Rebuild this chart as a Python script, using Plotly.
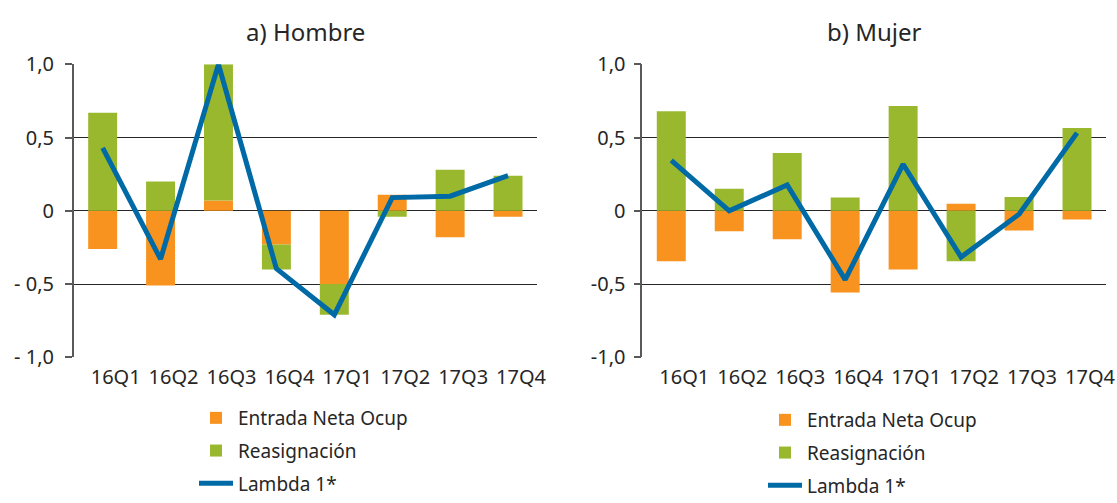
import plotly.graph_objects as go

categories = ["16Q1", "16Q2", "16Q3", "16Q4", "17Q1", "17Q2", "17Q3", "17Q4"]

hombre_entrada = [-0.26, -0.51, 0.07, -0.23, -0.50, 0.11, -0.18, -0.04]
hombre_reasig = [0.67, 0.20, 0.93, -0.17, -0.21, -0.04, 0.28, 0.24]
hombre_lambda = [0.43, -0.33, 1.00, -0.395, -0.71, 0.09, 0.10, 0.24]

mujer_entrada = [-0.345, -0.14, -0.195, -0.557, -0.40, 0.048, -0.134, -0.06]
mujer_reasig = [0.68, 0.15, 0.395, 0.09, 0.715, -0.345, 0.095, 0.565]
mujer_lambda = [0.345, 0.0, 0.177, -0.47, 0.318, -0.316, -0.023, 0.532]

titles = ["a) Hombre", "b) Mujer"]
series_names = ["Entrada Neta Ocup", "Reasignación", "Lambda 1*"]
ytick_vals = [1.0, 0.5, 0.0, -0.5, -1.0]
ytick_text_left = ["1,0", "0,5", "0", "- 0,5", "- 1,0"]
ytick_text_right = ["1,0", "0,5", "0", "-0,5", "-1,0"]

ORANGE = "#F7931E"
GREEN = "#99B82E"
BLUE = "#006AA7"
TEXT = "#262626"
FONT = "Noto Sans"

W, H = 1117, 503
dom_left = [73.7 / W, 537 / W]
dom_right = [642.3 / W, 1106 / W]
ydom = [1 - 357.3 / H, 1 - 64.3 / H]
zero_pos = (ydom[0] + ydom[1]) / 2

fig = go.Figure()

panels = [
    (hombre_entrada, hombre_reasig, hombre_lambda, "x", "y", "legend", "a"),
    (mujer_entrada, mujer_reasig, mujer_lambda, "x2", "y2", "legend2", "b"),
]
for ent, rea, lam, xa, ya, leg, tag in panels:
    fig.add_trace(go.Bar(x=categories, y=ent, name=series_names[0], marker_color=ORANGE,
                         marker_line_width=0, xaxis=xa, yaxis=ya, legend=leg,
                         legendgroup=tag + "o"))
    fig.add_trace(go.Bar(x=categories, y=rea, name=series_names[1], marker_color=GREEN,
                         marker_line_width=0, xaxis=xa, yaxis=ya, legend=leg,
                         legendgroup=tag + "g"))
    fig.add_trace(go.Scatter(x=categories, y=lam, name=series_names[2], mode="lines",
                             line=dict(color=BLUE, width=5), cliponaxis=False,
                             xaxis=xa, yaxis=ya, legend=leg, legendgroup=tag + "l"))

xcommon = dict(type="category", showgrid=False, showline=False, ticks="",
               tickfont=dict(family=FONT, size=20, color=TEXT), ticklabelshift=13,
               ticklabelstandoff=6, range=[-0.5, 7.5], automargin=False)
ycommon = dict(range=[-1, 1], tickvals=ytick_vals, showgrid=True, gridcolor="#262626",
               gridwidth=1, zeroline=False, showline=True, linecolor="#595959", linewidth=1.5,
               ticks="outside", ticklen=7, tickcolor="#595959", tickwidth=1.5,
               tickfont=dict(family=FONT, size=20, color=TEXT), domain=ydom,
               automargin=False)
zaxis = dict(type="linear", range=[-0.5, 7.5], tick0=0.5, dtick=1, showgrid=False,
             showline=True, linecolor="#595959", linewidth=1.5, ticks="outside",
             ticklen=6, tickcolor="#595959", tickwidth=1.5, showticklabels=False,
             anchor="free", position=zero_pos, zeroline=False)

legend_common = dict(xanchor="left", font=dict(family=FONT, size=19, color=TEXT),
                     traceorder="grouped", tracegroupgap=5, itemwidth=34,
                     bgcolor="rgba(0,0,0,0)")

fig.update_layout(
    width=W, height=H,
    margin=dict(l=0, r=0, t=0, b=0, autoexpand=False),
    paper_bgcolor="white", plot_bgcolor="white",
    barmode="relative", bargap=0.5,
    font=dict(family=FONT, color=TEXT),
    xaxis=dict(domain=dom_left, anchor="y", **xcommon),
    xaxis2=dict(domain=dom_right, anchor="y2", **xcommon),
    yaxis=dict(anchor="x", ticktext=ytick_text_left, ticklabelstandoff=7, **ycommon),
    yaxis2=dict(anchor="x2", ticktext=ytick_text_right, ticklabelstandoff=4, **ycommon),
    xaxis3=dict(overlaying="x", domain=dom_left, **zaxis),
    xaxis4=dict(overlaying="x2", domain=dom_right, **zaxis),
    legend=dict(x=194 / W, y=0, yanchor="bottom", **legend_common),
    legend2=dict(x=763 / W, y=1 - 401 / H, yanchor="top", **legend_common),
    annotations=[
        dict(text=titles[0], x=(dom_left[0] + dom_left[1]) / 2, y=1 - 31 / H,
             xref="paper", yref="paper", showarrow=False, xanchor="center", yanchor="middle",
             font=dict(family=FONT, size=24, color=TEXT)),
        dict(text=titles[1], x=(dom_right[0] + dom_right[1]) / 2, y=1 - 31 / H,
             xref="paper", yref="paper", showarrow=False, xanchor="center", yanchor="middle",
             font=dict(family=FONT, size=24, color=TEXT)),
    ],
)

fig.write_html("out.html", config={"displayModeBar": False},
               post_script="document.body.style.margin='0px';document.body.style.overflow='hidden';")
